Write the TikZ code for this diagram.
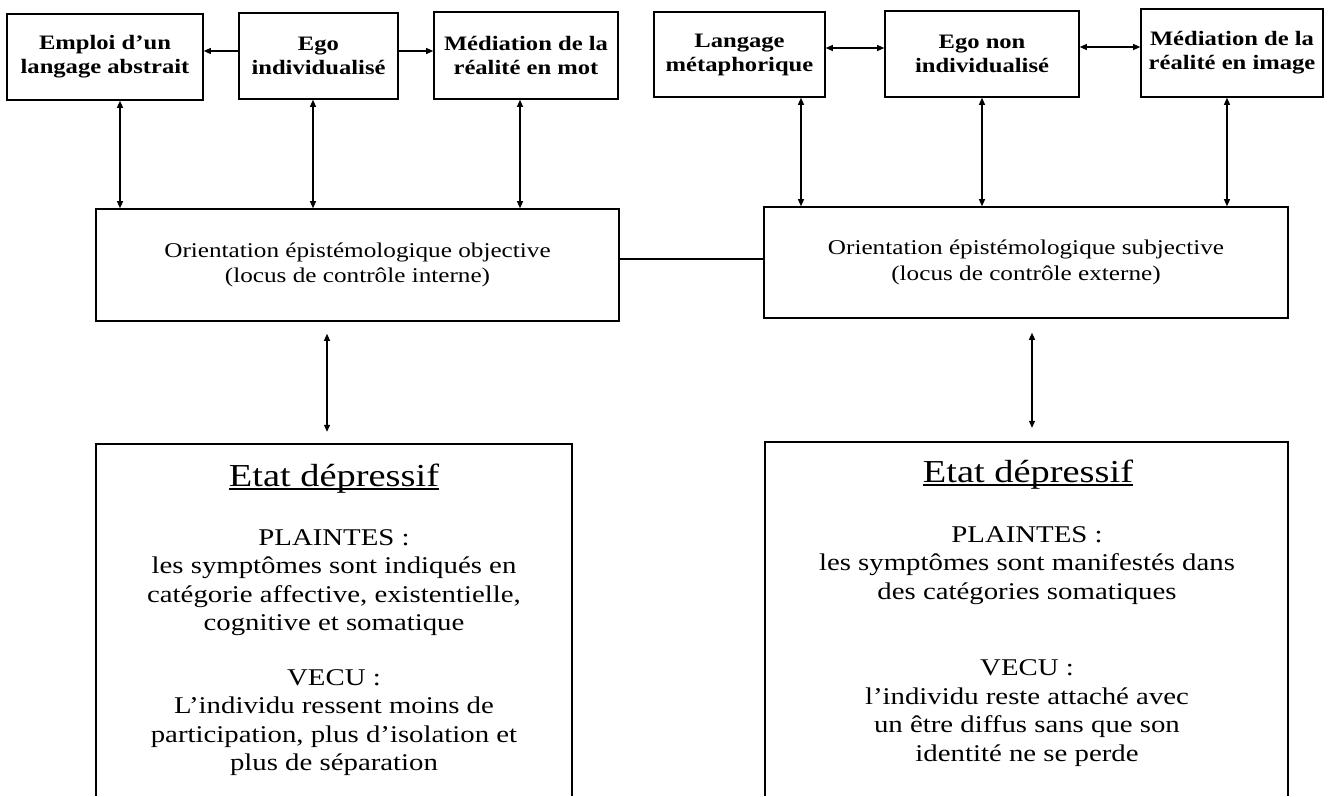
\documentclass[tikz,border=0pt]{standalone}
\usepackage{fontspec}
\setmainfont{Liberation Serif}[FakeStretch=1.2]
\usetikzlibrary{arrows.meta}
\begin{document}
\begin{tikzpicture}[x=1pt,y=-1pt,
  box/.style={draw, line width=1.6pt, inner sep=0pt, align=center},
  topbox/.style={box, font=\fontsize{20.5}{24}\selectfont\bfseries},
  orientbox/.style={box, font=\fontsize{21}{25.5}\selectfont},
  tip/.tip={Triangle[length=7pt,width=6pt]},
  conn/.style={line width=1.1pt, -tip},
  dconn/.style={line width=1.1pt, tip-tip},
  frame/.style={line width=1.6pt},
  bodytext/.style={inner sep=0pt, align=center, font=\fontsize{24}{28.5}\selectfont},
  titletext/.style={inner sep=0pt, font=\fontsize{32}{38}\selectfont}]
\useasboundingbox (0,0) rectangle (1334,796);
\fill[white] (0,0) rectangle (1334,796);

% top row
\node[topbox, minimum width=196pt, minimum height=86pt] (B1) at (105,57) {Emploi d'un\\langage abstrait};
\node[topbox, minimum width=159pt, minimum height=86pt] (B2) at (318.5,56) {Ego\\individualisé};
\node[topbox, minimum width=184pt, minimum height=87pt] (B3) at (526,55.5) {Médiation de la\\réalité en mot};
\node[topbox, minimum width=171pt, minimum height=85pt] (B4) at (739.5,54.5) {Langage\\métaphorique};
\node[topbox, minimum width=194pt, minimum height=86pt] (B5) at (982,54) {Ego non\\individualisé};
\node[topbox, minimum width=182pt, minimum height=88pt] (B6) at (1232,53) {Médiation de la\\réalité en image};

% orientation boxes
\node[orientbox, minimum width=523pt, minimum height=112pt] (O1) at (357.5,265) {Orientation épistémologique objective\\(locus de contrôle interne)};
\node[orientbox, minimum width=524pt, minimum height=111pt] (O2) at (1026,262.5) {Orientation épistémologique subjective\\(locus de contrôle externe)};

% bottom frames
\node[minimum width=476pt, minimum height=352pt, inner sep=0pt] (P1) at (334,620) {};
\node[minimum width=523pt, minimum height=354pt, inner sep=0pt] (P2) at (1026.5,619) {};
\draw[frame] (P1.south west) -- (P1.north west) -- (P1.north east) -- (P1.south east);
\draw[frame] (P2.south west) -- (P2.north west) -- (P2.north east) -- (P2.south east);

% bottom texts
\node[titletext, anchor=base] (T1) at (334,486) {Etat dépressif};
\draw[line width=1.2pt] ([yshift=-3pt]T1.base west) -- ([yshift=-3pt]T1.base east);
\node[bodytext, anchor=north] (L1) at (334,529) {PLAINTES :\\les symptômes sont indiqués en\\catégorie affective, existentielle,\\cognitive et somatique\\[26pt]VECU :\\L’individu ressent moins de\\participation, plus d’isolation et\\plus de séparation};

\node[titletext, anchor=base] (T2) at (1028,482) {Etat dépressif};
\draw[line width=1.2pt] ([yshift=-3pt]T2.base west) -- ([yshift=-3pt]T2.base east);
\node[bodytext, anchor=north] (L2) at (1027,526) {PLAINTES :\\les symptômes sont manifestés dans\\des catégories somatiques\\[48pt]VECU :\\l’individu reste attaché avec\\un être diffus sans que son\\identité ne se perde};

% x / y guides
\coordinate (a1) at (120,0);
\coordinate (a2) at (313,0);
\coordinate (a3) at (520,0);
\coordinate (a4) at (801,0);
\coordinate (a5) at (982,0);
\coordinate (a6) at (1227,0);
\coordinate (c1) at (327,0);
\coordinate (c2) at (1032,0);
\coordinate (h1) at (0,51);
\coordinate (h2) at (0,48);
\coordinate (h3) at (0,47);
\coordinate (m1) at (0,259);

% horizontal connectors
\draw[conn] (B2.west |- h1) -- (B1.east |- h1);
\draw[conn] (B2.east |- h1) -- (B3.west |- h1);
\draw[dconn] (B4.east |- h2) -- (B5.west |- h2);
\draw[dconn] (B5.east |- h3) -- (B6.west |- h3);
\draw[line width=1.1pt] (O1.east |- m1) -- (O2.west |- m1);

% vertical connectors
\draw[dconn] (B1.south -| a1) -- (O1.north -| a1);
\draw[dconn] (B2.south -| a2) -- (O1.north -| a2);
\draw[dconn] (B3.south -| a3) -- (O1.north -| a3);
\draw[dconn] (B4.south -| a4) -- (O2.north -| a4);
\draw[dconn] (B5.south -| a5) -- (O2.north -| a5);
\draw[dconn] (B6.south -| a6) -- (O2.north -| a6);
\draw[dconn, shorten <=12pt, shorten >=12pt] (O1.south -| c1) -- (P1.north -| c1);
\draw[dconn, shorten <=14pt, shorten >=14pt] (O2.south -| c2) -- (P2.north -| c2);
\end{tikzpicture}
\end{document}
